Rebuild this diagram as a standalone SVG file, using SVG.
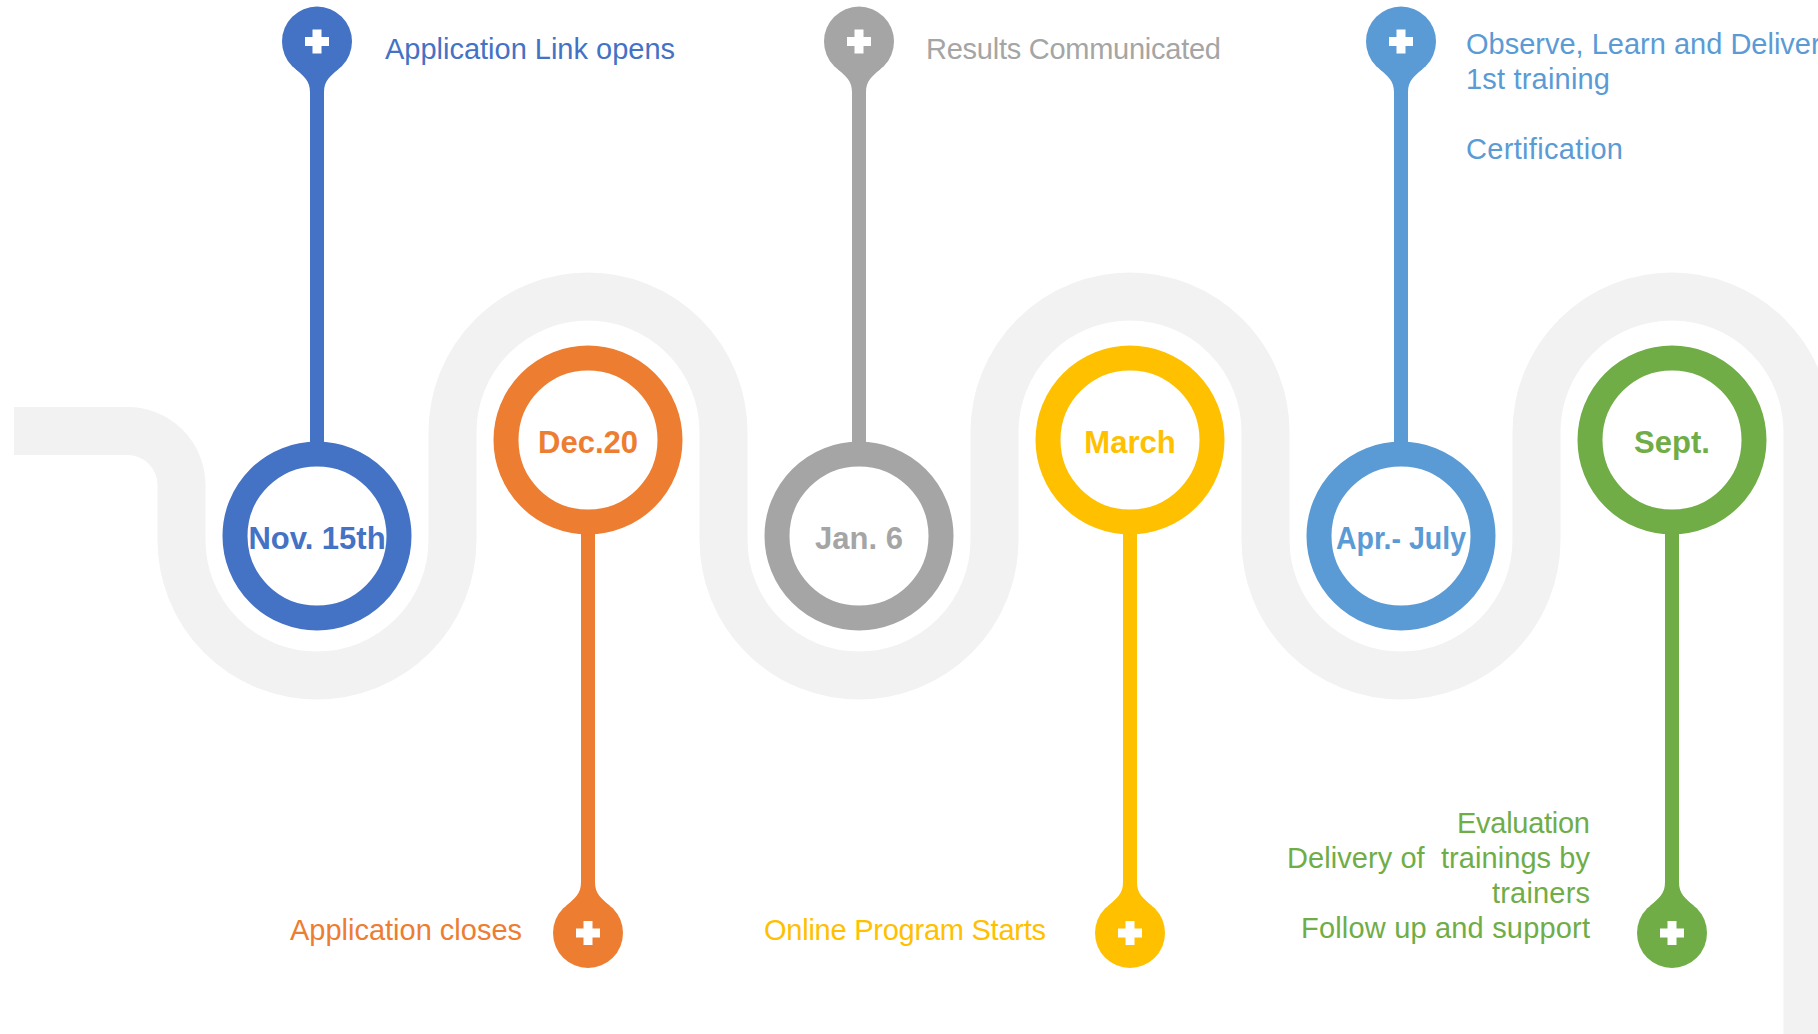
<svg xmlns="http://www.w3.org/2000/svg" xmlns:xlink="http://www.w3.org/1999/xlink" width="1818" height="1034" viewBox="0 0 1818 1034">
<style>
.road{fill:none;stroke:#F2F2F2;stroke-width:48}
.ring{fill:#FFFFFF;stroke-width:25}
.stem{stroke-width:14}
.date{font-family:"Liberation Sans",Arial,sans-serif;font-weight:bold;font-size:31px;text-anchor:middle}
.lbl{font-family:"Liberation Sans",Arial,sans-serif;font-size:29px}
.end{text-anchor:end}
.plus{fill:#FFFFFF}
</style>
<defs>
<g id="pinTop">
<circle cx="0" cy="0" r="35"/>
<path d="M-7,51 C-7,39 -13,35 -22,27 L22,27 C13,35 7,39 7,51 Z"/>
<rect class="plus" x="-12" y="-4.5" width="24" height="9"/>
<rect class="plus" x="-4.5" y="-12" width="9" height="24"/>
</g>
<g id="pinBot">
<circle cx="0" cy="0" r="35"/>
<path d="M-7,-51 C-7,-39 -13,-35 -22,-27 L22,-27 C13,-35 7,-39 7,-51 Z"/>
<rect class="plus" x="-12" y="-4.5" width="24" height="9"/>
<rect class="plus" x="-4.5" y="-12" width="9" height="24"/>
</g>
</defs>
<rect width="1818" height="1034" fill="#FFFFFF"/>
<g id="connectors">
<path class="road" d="M14,431 H127 A54 54 0 0 1 181.5 485 V540 A135.5 135.5 0 0 0 452.5 540 V432 A135.5 135.5 0 0 1 723.5 432 V540 A135.5 135.5 0 0 0 994.5 540 V432 A135.5 135.5 0 0 1 1265.5 432 V540 A135.5 135.5 0 0 0 1536.5 540 V432 A135.5 135.5 0 0 1 1807.5 432 V1040"/>
<line class="stem" x1="317" y1="80" x2="317" y2="480" stroke="#4472C4"/>
<line class="stem" x1="588" y1="500" x2="588" y2="895" stroke="#ED7D31"/>
<line class="stem" x1="859" y1="80" x2="859" y2="480" stroke="#A5A5A5"/>
<line class="stem" x1="1130" y1="500" x2="1130" y2="895" stroke="#FFC000"/>
<line class="stem" x1="1401" y1="80" x2="1401" y2="480" stroke="#5B9BD5"/>
<line class="stem" x1="1672" y1="500" x2="1672" y2="895" stroke="#70AD47"/>
</g>
<g id="node-nov">
<circle class="ring" cx="317" cy="536" r="82" stroke="#4472C4"/>
<text class="date" x="317" y="549" fill="#4472C4">Nov. 15th</text>
<use xlink:href="#pinTop" x="317" y="41.5" fill="#4472C4"/>
<text class="lbl" x="385" y="59" fill="#4472C4" textLength="290">Application Link opens</text>
</g>
<g id="node-dec">
<circle class="ring" cx="588" cy="440" r="82" stroke="#ED7D31"/>
<text class="date" x="588" y="453" fill="#ED7D31">Dec.20</text>
<use xlink:href="#pinBot" x="588" y="933" fill="#ED7D31"/>
<text class="lbl end" x="522" y="940" fill="#ED7D31" textLength="232">Application closes</text>
</g>
<g id="node-jan">
<circle class="ring" cx="859" cy="536" r="82" stroke="#A5A5A5"/>
<text class="date" x="859" y="549" fill="#A5A5A5">Jan. 6</text>
<use xlink:href="#pinTop" x="859" y="41.5" fill="#A5A5A5"/>
<text class="lbl" x="926" y="59" fill="#A5A5A5" textLength="295">Results Communicated</text>
</g>
<g id="node-march">
<circle class="ring" cx="1130" cy="440" r="82" stroke="#FFC000"/>
<text class="date" x="1130" y="453" fill="#FFC000">March</text>
<use xlink:href="#pinBot" x="1130" y="933" fill="#FFC000"/>
<text class="lbl end" x="1046" y="940" fill="#FFC000" textLength="282">Online Program Starts</text>
</g>
<g id="node-apr">
<circle class="ring" cx="1401" cy="536" r="82" stroke="#5B9BD5"/>
<text class="date" x="1401" y="549" fill="#5B9BD5" textLength="130" lengthAdjust="spacingAndGlyphs">Apr.- July</text>
<use xlink:href="#pinTop" x="1401" y="41.5" fill="#5B9BD5"/>
<text class="lbl" x="1466" y="54" fill="#5B9BD5">Observe, Learn and Deliver</text>
<text class="lbl" x="1466" y="89" fill="#5B9BD5" textLength="144">1st training</text>
<text class="lbl" x="1466" y="159" fill="#5B9BD5" textLength="157">Certification</text>
</g>
<g id="node-sept">
<circle class="ring" cx="1672" cy="440" r="82" stroke="#70AD47"/>
<text class="date" x="1672" y="453" fill="#70AD47">Sept.</text>
<use xlink:href="#pinBot" x="1672" y="933" fill="#70AD47"/>
<text class="lbl end" x="1590" y="833" fill="#70AD47" textLength="133">Evaluation</text>
<text class="lbl end" x="1590" y="868" fill="#70AD47" xml:space="preserve" textLength="303">Delivery of  trainings by</text>
<text class="lbl end" x="1590" y="903" fill="#70AD47" textLength="98">trainers</text>
<text class="lbl end" x="1590" y="938" fill="#70AD47" textLength="289">Follow up and support</text>
</g>
</svg>
